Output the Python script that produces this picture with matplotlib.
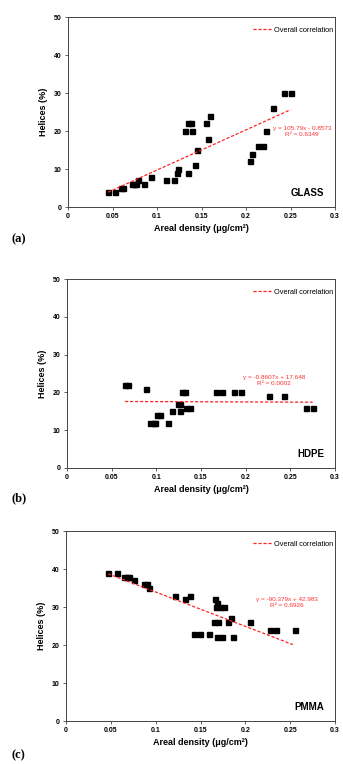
import matplotlib
matplotlib.use("Agg")
import matplotlib.pyplot as plt
import numpy as np

plt.rcParams['font.family'] = ['Liberation Sans', 'DejaVu Sans']

# Panel (a) GLASS
glass_x = [0.045, 0.0526, 0.059, 0.062, 0.072, 0.0746, 0.0765, 0.0787, 0.085, 0.0937,
           0.110, 0.119, 0.122, 0.1235, 0.131, 0.1347, 0.138, 0.1347, 0.139, 0.143,
           0.145, 0.1545, 0.1575, 0.159, 0.205, 0.207, 0.213, 0.219, 0.223, 0.230,
           0.243, 0.250]
glass_y = [4, 4, 5, 5, 6, 6, 6, 7, 6, 8,
           7, 7, 9, 10, 20, 22, 22, 9, 20, 11,
           15, 22, 18, 24, 12, 14, 16, 16, 20, 26,
           30, 30]
glass_fit = (105.79, -0.8573)
glass_eq = ["y = 105.79x - 0.8573", "R² = 0.6349"]

# Panel (b) HDPE
hdpe_x = [0.065, 0.068, 0.088, 0.093, 0.097, 0.099, 0.101, 0.104, 0.113, 0.117,
          0.124, 0.126, 0.127, 0.129, 0.132, 0.133, 0.138, 0.167, 0.173, 0.187,
          0.195, 0.226, 0.243, 0.268, 0.275]
hdpe_y = [22, 22, 21, 12, 12, 12, 14, 14, 12, 15,
          17, 17, 15, 20, 20, 16, 16, 20, 20, 20,
          20, 19, 19, 16, 16]
hdpe_fit = (-0.8607, 17.648)
hdpe_eq = ["y = -0.8607x + 17.648", "R² = 0.0002"]

# Panel (c) PMMA
pmma_x = [0.0466, 0.057, 0.0645, 0.0675, 0.0705, 0.0757, 0.0868, 0.0906, 0.0928, 0.1219,
          0.1327, 0.138, 0.1427, 0.149, 0.160, 0.166, 0.167, 0.168, 0.165, 0.169,
          0.168, 0.174, 0.172, 0.176, 0.186, 0.181, 0.184, 0.205, 0.227, 0.234,
          0.255]
pmma_y = [39, 39, 38, 38, 38, 37, 36, 36, 35, 33,
          32, 33, 23, 23, 23, 32, 30, 31, 26, 26,
          22, 22, 30, 30, 22, 26, 27, 26, 24, 24,
          24]
pmma_fit = (-90.379, 42.983)
pmma_eq = ["y = -90.379x + 42.983", "R² = 0.6926"]

xticks = [0, 0.05, 0.1, 0.15, 0.2, 0.25, 0.3]
xtick_labels = ["0", "0.05", "0.1", "0.15", "0.2", "0.25", "0.3"]
yticks = [0, 10, 20, 30, 40, 50]

panels = [
    dict(x=glass_x, y=glass_y, fit=glass_fit, eq=glass_eq, name="GLASS", tag="(a)",
         eqpos=(0.263, 21.3), fitrange=(0.045, 0.250)),
    dict(x=hdpe_x, y=hdpe_y, fit=hdpe_fit, eq=hdpe_eq, name="HDPE", tag="(b)",
         eqpos=(0.232, 24.6), fitrange=(0.065, 0.275)),
    dict(x=pmma_x, y=pmma_y, fit=pmma_fit, eq=pmma_eq, name="PMMA", tag="(c)",
         eqpos=(0.246, 32.6), fitrange=(0.047, 0.253)),
]

W, H = 343, 764
fig = plt.figure(figsize=(W / 100, H / 100), dpi=100)

ax_boxes = [(68, 17, 335, 207), (67, 279, 335, 468), (66, 531, 335, 721)]
tag_y = [239, 498, 755]

for p, (l, t, r, b), ty in zip(panels, ax_boxes, tag_y):
    ax = fig.add_axes([l / W, 1 - b / H, (r - l) / W, (b - t) / H])
    ax.plot(p["x"], p["y"], linestyle="none", marker="s", ms=3.6, color="black",
            zorder=3)
    fx = np.array(p["fitrange"])
    a, c = p["fit"]
    ax.plot(fx, a * fx + c, color="#ff2020", lw=0.9, dashes=(2.5, 1.5),
            label="Overall correlation", zorder=4)
    ax.set_xlim(0, 0.3)
    ax.set_ylim(0, 50)
    ax.set_xticks(xticks)
    ax.set_xticklabels(xtick_labels)
    ax.set_yticks(yticks)
    ax.tick_params(axis="both", labelsize=5, length=2.5, width=0.6, pad=2,
                   direction="out", color="#444444")
    for lab in ax.get_xticklabels() + ax.get_yticklabels():
        lab.set_fontweight("bold")
    for s in ax.spines.values():
        s.set_linewidth(0.7)
        s.set_color("#444444")
    ax.set_xlabel("Areal density (μg/cm²)", fontsize=6.5, fontweight="bold",
                  labelpad=3)
    ax.set_ylabel("Helices (%)", fontsize=6.5, fontweight="bold", labelpad=4)
    ax.legend(loc="upper right", bbox_to_anchor=(1.005, 0.965), frameon=False,
              fontsize=5.3, handlelength=2.6, handletextpad=0.3,
              borderaxespad=0.0)
    ax.text(p["eqpos"][0], p["eqpos"][1], p["eq"][0] + "\n" + p["eq"][1],
            color="#ff3030", fontsize=4.6, ha="center", va="top",
            linespacing=1.15)
    ax.text(0.96, 0.05, p["name"], transform=ax.transAxes, ha="right",
            va="bottom", fontsize=7, fontweight="bold")
    fig.text(11 / W, 1 - ty / H, p["tag"], family="Liberation Serif",
             fontweight="bold", fontsize=9, va="center", ha="left")

fig.savefig("out.png", dpi=100)
